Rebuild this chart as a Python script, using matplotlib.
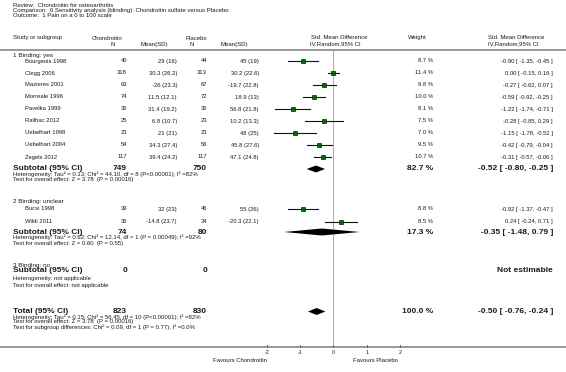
import matplotlib
matplotlib.use("Agg")
import matplotlib.pyplot as plt

plt.rcParams['font.family'] = ['Liberation Sans', 'DejaVu Sans']

# ---------------- data ----------------
title_lines = ["Review:  Chondroitin for osteoarthritis",
               "Comparison:  6 Sensitivity analysis (blinding): Chondroitin sulfate versus Placebo",
               "Outcome:  1 Pain on a 0 to 100 scale"]

g1_label = "1 Binding: yes"
g1_studies = ["Bourgeois 1998", "Clegg 2006", "Mazieres 2001", "Morreale 1996", "Pavelka 1999",
              "Railhac 2012", "Uebelhart 1998", "Uebelhart 2004", "Zegels 2012"]
g1_nc = [40, 318, 63, 74, 35, 25, 23, 54, 117]
g1_mc = [29, 30.3, -26, 11.5, 31.4, 6.8, 21, 34.3, 39.4]
g1_sc = [16, 26.2, 23.3, 12.1, 19.2, 10.7, 21, 27.4, 24.2]
g1_np = [44, 313, 67, 72, 35, 23, 23, 56, 117]
g1_mp = [45, 30.2, -19.7, 18.9, 56.8, 10.2, 48, 45.8, 47.1]
g1_sp = [19, 22.6, 22.8, 13, 21.8, 13.3, 25, 27.6, 24.8]
g1_w = [8.7, 11.4, 9.8, 10.0, 8.1, 7.5, 7.0, 9.5, 10.7]
g1_smd = [-0.90, 0.00, -0.27, -0.59, -1.22, -0.28, -1.15, -0.42, -0.31]
g1_lo = [-1.35, -0.15, -0.62, -0.92, -1.74, -0.85, -1.78, -0.79, -0.57]
g1_hi = [-0.45, 0.16, 0.07, -0.25, -0.71, 0.29, -0.52, -0.04, -0.06]
g1_sub = dict(nc=749, np=750, w=82.7, smd=-0.52, lo=-0.80, hi=-0.25)
g1_het = "Heterogeneity: Tau² = 0.13; Chi² = 44.10, df = 8 (P<0.00001); I² =82%"
g1_test = "Test for overall effect: Z = 3.78  (P = 0.00016)"

g2_label = "2 Binding: unclear"
g2_studies = ["Bucsi 1998", "Wildi 2011"]
g2_nc = [39, 35]
g2_mc = [32, -14.8]
g2_sc = [23, 23.7]
g2_np = [46, 34]
g2_mp = [55, -20.3]
g2_sp = [26, 22.1]
g2_w = [8.8, 8.5]
g2_smd = [-0.92, 0.24]
g2_lo = [-1.37, -0.24]
g2_hi = [-0.47, 0.71]
g2_sub = dict(nc=74, np=80, w=17.3, smd=-0.35, lo=-1.48, hi=0.79)
g2_het = "Heterogeneity: Tau² = 0.62; Chi² = 12.14, df = 1 (P = 0.00049); I² =92%"
g2_test = "Test for overall effect: Z = 0.60  (P = 0.55)"

g3_label = "3 Binding: no"
g3_sub_n = [0, 0]
g3_het = "Heterogeneity: not applicable"
g3_test = "Test for overall effect: not applicable"

total = dict(nc=823, np=830, w=100.0, smd=-0.50, lo=-0.76, hi=-0.24)
total_lines = ["Heterogeneity: Tau² = 0.15; Chi² = 56.45, df = 10 (P<0.00001); I² =82%",
               "Test for overall effect: Z = 3.78  (P = 0.00016)",
               "Test for subgroup differences: Chi² = 0.09, df = 1 (P = 0.77), I² =0.0%"]

xticks = [-2, -1, 0, 1, 2]
favours_left = "Favours Chondroitin"
favours_right = "Favours Placebo"

# ---------------- layout ----------------
W, H = 566, 372
fig = plt.figure(figsize=(W / 100, H / 100), dpi=100)
tax = fig.add_axes([0, 0, 1, 1])
tax.set_xlim(0, W)
tax.set_ylim(H, 0)
tax.axis('off')

PX0, PX1 = 250, 250 + 166.667
fax = fig.add_axes([PX0 / W, 0, (PX1 - PX0) / W, 1])
fax.set_xlim(-2.5, 2.5)
fax.set_ylim(H, 0)
fax.axis('off')

FS = 4.2
FSB = 6.0
FSH = 4.3
TC = '#1a1a1a'

X_LEFT, X_STUDY = 13, 25
X_NC, X_MC, X_NP, X_MP = 127, 177, 207, 259
X_W, X_SMD = 433, 553


def t(x, y, s, ha='left', fs=FS, bold=False, color=TC):
    tax.text(x, y, s, ha=ha, va='center', fontsize=fs,
             fontweight='bold' if bold else 'normal', color=color)


# titles
for y, s in zip([5.5, 10.5, 15.5], title_lines):
    t(X_LEFT, y, s, fs=4.3)

# headers
t(X_LEFT, 38, "Study or subgroup", fs=4.3)
t(123, 38, "Chondroitin", ha='right', fs=4.3)
t(113, 44.5, "N", ha='center', fs=4.3)
t(168, 44.5, "Mean(SD)", ha='right', fs=4.3)
t(207, 38, "Placebo", ha='right', fs=4.3)
t(192, 44.5, "N", ha='center', fs=4.3)
t(248, 44.5, "Mean(SD)", ha='right', fs=4.3)
t(311, 37.5, "Std. Mean Difference", fs=4.3)
t(310, 43.5, "IV,Random,95% CI", fs=4.3)
t(408, 37.5, "Weight", fs=4.3)
t(488, 37.5, "Std. Mean Difference", fs=4.3)
t(488, 43.5, "IV,Random,95% CI", fs=4.3)

tax.axhline(50, color='#999999', lw=1.4)
tax.axhline(347, color='#999999', lw=1.4)

# zero line
fax.plot([0, 0], [50, 347], color='#aaaaaa', lw=0.7, zorder=1)


def fmt_ci(s, lo, hi):
    return f"{s:.2f} [ {lo:.2f}, {hi:.2f} ]"


def study_rows(ys, names, nc, mc, sc, np_, mp, sp, w, smd, lo, hi):
    for i, y in enumerate(ys):
        t(X_STUDY, y, names[i])
        t(X_NC, y, f"{nc[i]}", ha='right')
        t(X_MC, y, f"{mc[i]:g} ({sc[i]:g})", ha='right')
        t(X_NP, y, f"{np_[i]}", ha='right')
        t(X_MP, y, f"{mp[i]:g} ({sp[i]:g})", ha='right')
        t(X_W, y, f"{w[i]:.1f} %", ha='right')
        t(X_SMD, y, fmt_ci(smd[i], lo[i], hi[i]), ha='right')
        fax.plot([lo[i], hi[i]], [y, y], color='#111111', lw=0.8, zorder=2)
        ms = 3.1 + 0.08 * (w[i] - 7)
        fax.plot([smd[i]], [y], marker='s', ms=ms, mfc='#006a00',
                 mec='#002a00', mew=0.5, zorder=3)


def diamond(y, d, h=3.5):
    fax.fill([d['lo'], d['smd'], d['hi'], d['smd']], [y, y - h, y, y + h],
             color='black', lw=0, zorder=3)


def subtotal_row(y, d, label="Subtotal (95% CI)"):
    t(X_LEFT, y, label, fs=FSB, bold=True)
    t(X_NC, y, f"{d['nc']}", ha='right', fs=FSB, bold=True)
    t(X_NP, y, f"{d['np']}", ha='right', fs=FSB, bold=True)
    t(X_W, y, f"{d['w']:.1f} %", ha='right', fs=FSB, bold=True)
    t(X_SMD, y, fmt_ci(d['smd'], d['lo'], d['hi']), ha='right', fs=FSB, bold=True)
    diamond(y, d)


# group 1
t(X_LEFT, 55.5, g1_label, fs=4.6)
ys1 = [61 + 12 * i for i in range(len(g1_studies))]
study_rows(ys1, g1_studies, g1_nc, g1_mc, g1_sc, g1_np, g1_mp, g1_sp, g1_w, g1_smd, g1_lo, g1_hi)
subtotal_row(169, g1_sub)
t(X_LEFT, 174.5, g1_het, fs=FSH)
t(X_LEFT, 180, g1_test, fs=FSH)

# group 2
t(X_LEFT, 202, g2_label, fs=4.6)
study_rows([209, 221.5], g2_studies, g2_nc, g2_mc, g2_sc, g2_np, g2_mp, g2_sp, g2_w, g2_smd, g2_lo, g2_hi)
subtotal_row(232, g2_sub)
t(X_LEFT, 237.5, g2_het, fs=FSH)
t(X_LEFT, 243, g2_test, fs=FSH)

# group 3
t(X_LEFT, 265.5, g3_label, fs=4.6)
t(X_LEFT, 270.5, "Subtotal (95% CI)", fs=FSB, bold=True)
t(X_NC, 270.5, f"{g3_sub_n[0]}", ha='right', fs=FSB, bold=True)
t(X_NP, 270.5, f"{g3_sub_n[1]}", ha='right', fs=FSB, bold=True)
t(X_SMD, 270.5, "Not estimable", ha='right', fs=FSB, bold=True)
t(X_LEFT, 278.5, g3_het, fs=FSH)
t(X_LEFT, 285, g3_test, fs=FSH)

# total
subtotal_row(311.5, total, label="Total (95% CI)")
for y, s in zip([317, 322, 327.5], total_lines):
    t(X_LEFT, y, s, fs=FSH)

# axis ticks
for v in xticks:
    fax.plot([v, v], [345, 347], color='#555555', lw=0.6)
    fax.text(v, 353, f"{v}", ha='center', va='center', fontsize=3.9, color=TC)
fax.text(xticks[0], 360, favours_left, ha='right', va='center', fontsize=4.3, color=TC)
fax.text(0.6, 360, favours_right, ha='left', va='center', fontsize=4.3, color=TC)

fig.savefig("out.png", dpi=100, facecolor='white')
